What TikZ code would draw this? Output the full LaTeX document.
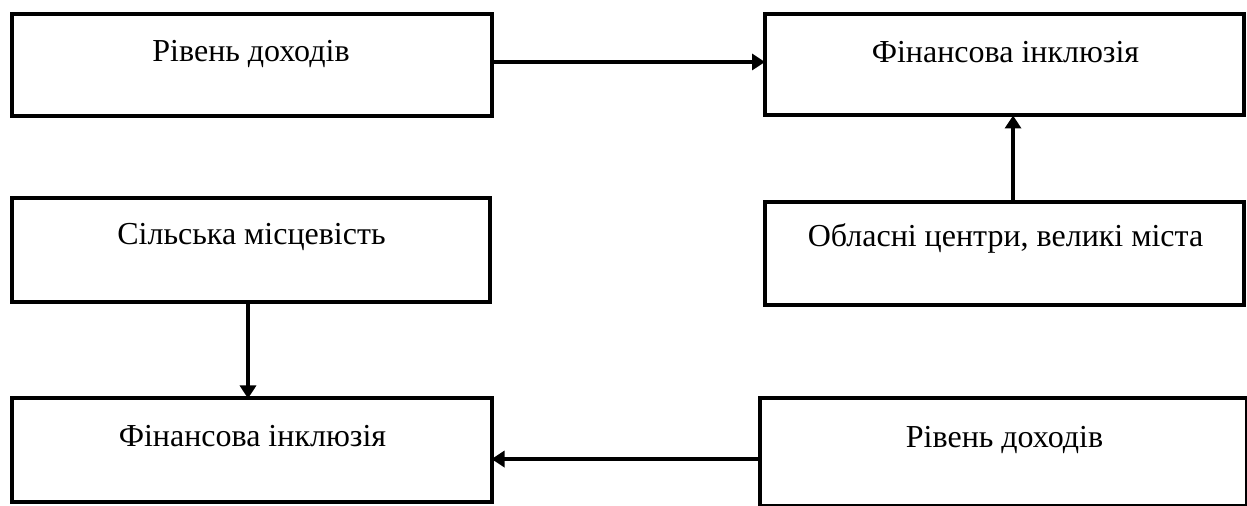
\documentclass[tikz,border=0pt]{standalone}
\usepackage{fontspec}
\setmainfont{Liberation Serif}
\usetikzlibrary{arrows.meta}
\tikzset{
  box/.style={draw=black, line width=2pt, rectangle, inner sep=0pt, outer sep=0pt},
  lbl/.style={anchor=base, inner sep=0pt, font=\fontsize{16}{19}\selectfont},
  arr/.style={line width=1.8pt, -{Triangle[length=6.5pt,width=8pt]}}
}
\begin{document}
\begin{tikzpicture}[x=0.5pt,y=-0.5pt]
\clip (0,0) rectangle (1247,506);
\fill[white] (0,0) rectangle (1247,506);
% boxes
\node[box, minimum width=240pt, minimum height=51pt] (b1) at (251.5,65) {};
\node[box, minimum width=239.25pt, minimum height=50.75pt] (b2) at (1004.25,64.75) {};
\node[box, minimum width=239pt, minimum height=51.75pt] (b3) at (251,250.25) {};
\node[box, minimum width=239.25pt, minimum height=51.5pt] (b4) at (1004.25,253.5) {};
\node[box, minimum width=239.75pt, minimum height=51.75pt] (b5) at (251.75,450.25) {};
\node[box, minimum width=243.5pt, minimum height=53.75pt] (b6) at (1003.5,452.25) {};
% texts
\node[lbl] (t1) at (251,62) {Рівень доходів};
\node[lbl] (t2) at (1005.5,63) {Фінансова інклюзія};
\node[lbl] (t3) at (251.5,245) {Сільська місцевість};
\node[lbl] (t4) at (1005.5,246.5) {Обласні центри, великі міста};
\node[lbl] (t5) at (252.5,446.5) {Фінансова інклюзія};
\node[lbl] (t6) at (1004.5,448) {Рівень доходів};
% connectors
\coordinate (a1s) at ([yshift=1.5pt]b1.east);
\draw[arr] (a1s) -- (b2.west |- a1s);
\coordinate (a2s) at ([xshift=4.4pt]b4.north);
\draw[arr] (a2s) -- (b2.south -| a2s);
\coordinate (a3s) at ([xshift=-1.5pt]b3.south);
\draw[arr] (a3s) -- (b5.north -| a3s);
\coordinate (a4s) at ([yshift=-3.4pt]b6.west);
\draw[arr] (a4s) -- (b5.east |- a4s);
\end{tikzpicture}
\end{document}
